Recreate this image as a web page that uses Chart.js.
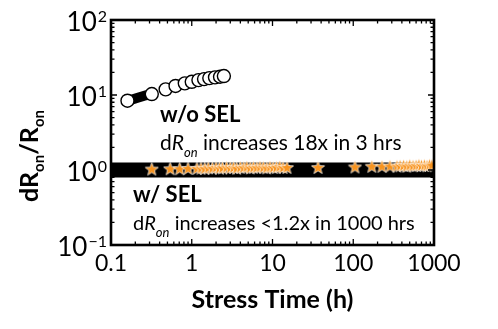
<!DOCTYPE html>
<html>
<head>
<meta charset="utf-8">
<script src="https://cdn.jsdelivr.net/npm/chart.js@4/dist/chart.umd.min.js"></script>
<style>
  html, body { margin: 0; padding: 0; background: #fff; }
</style>
</head>
<body>
<canvas id="ronChart" width="498" height="329"></canvas>
<script>
// w/o SEL: open circles, plus the dense early trace under them
const noSelTime = [0.16, 0.32, 0.475, 0.63, 0.82, 1.0, 1.21, 1.42, 1.65, 1.94, 2.24, 2.5];
const noSelRatio = [8.4, 10.3, 11.9, 13.2, 14.3, 15.0, 15.8, 16.3, 16.8, 17.2, 17.5, 17.9];
const noSelTraceTime = [0.17, 0.2, 0.23, 0.27, 0.31];
const noSelTraceRatio = [8.5, 9.0, 9.4, 9.9, 10.2];

// w/ SEL: black band and orange stars
const selBandTime = [0.1, 1, 10, 100, 1000];
const selBandRatio = [1.0, 1.0, 1.0, 1.0, 1.0];
const selStarTime = [0.32, 0.54, 0.71, 0.90, 1.16, 1.3, 1.45, 1.6, 1.8, 2.0, 2.2, 2.4, 2.7, 3.0, 3.3,
  3.6, 4.0, 4.4, 4.8, 5.3, 5.8, 6.4, 7.0, 7.7, 8.5, 9.3, 10.2, 11.2, 12.3, 13.5, 15.1, 36.6, 105,
  170, 227, 285, 348, 380, 420, 460, 500, 550, 600, 650, 700, 760, 820, 880, 940];
const selStarRatio = [1.03, 1.04, 1.04, 1.05, 1.05, 1.06, 1.05, 1.07, 1.06, 1.08, 1.06, 1.07, 1.09, 1.07, 1.08,
  1.06, 1.09, 1.08, 1.10, 1.07, 1.09, 1.08, 1.10, 1.09, 1.07, 1.10, 1.08, 1.09, 1.11, 1.08, 1.08, 1.08, 1.10,
  1.12, 1.12, 1.13, 1.13, 1.14, 1.15, 1.13, 1.16, 1.14, 1.15, 1.17, 1.15, 1.16, 1.14, 1.17, 1.16];

const xTickValues = [0.1, 1, 10, 100, 1000];
const xTickLabels = ['0.1', '1', '10', '100', '1000'];
const yTickExponents = [-1, 0, 1, 2];

const FONT = 'Lato, "Open Sans", sans-serif';

function points(xs, ys) {
  return xs.map((t, i) => ({ x: t, y: ys[i] }));
}

function makeStar(size, fill) {
  const c = document.createElement('canvas');
  c.width = c.height = size;
  const g = c.getContext('2d');
  const cx = size / 2, cy = size / 2 + 0.5, ro = size / 2 - 0.6, ri = ro * 0.42;
  g.beginPath();
  for (let k = 0; k < 10; k++) {
    const r = k % 2 ? ri : ro;
    const a = -Math.PI / 2 + k * Math.PI / 5;
    g.lineTo(cx + r * Math.cos(a), cy + r * Math.sin(a));
  }
  g.closePath();
  g.fillStyle = fill;
  g.fill();
  g.strokeStyle = '#fff';
  g.lineWidth = 0.7;
  g.stroke();
  return c;
}

// draws a run of text pieces with their own fonts / vertical shifts
function drawRich(ctx, parts, x, y, align) {
  let total = 0;
  parts.forEach(p => { ctx.font = p.font; total += ctx.measureText(p.text).width; });
  let cur = align === 'center' ? x - total / 2 : align === 'right' ? x - total : x;
  ctx.textAlign = 'left';
  ctx.textBaseline = 'alphabetic';
  parts.forEach(p => {
    ctx.font = p.font;
    ctx.fillText(p.text, cur, y + (p.dy || 0));
    cur += ctx.measureText(p.text).width;
  });
}

function ronLine(ctx, tail, x, y, size) {
  drawRich(ctx, [
    { text: 'd', font: size + 'px ' + FONT },
    { text: 'R', font: 'italic ' + size + 'px ' + FONT },
    { text: 'on', font: 'italic 13px ' + FONT, dy: 7 },
    { text: ' ' + tail, font: size + 'px ' + FONT }
  ], x, y, 'left');
}

const framePlugin = {
  id: 'frame',
  afterDatasetsDraw(chart) {
    const { ctx, chartArea: a, scales: { x, y } } = chart;
    ctx.save();
    ctx.strokeStyle = '#000';
    ctx.lineWidth = 1.3;
    ctx.beginPath();
    for (let e = -1; e <= 2; e++) {
      for (let m = 1; m <= 9; m++) {
        const v = m * Math.pow(10, e);
        const len = m === 1 ? 6 : 3.5;
        const px = x.getPixelForValue(v);
        ctx.moveTo(px, a.bottom); ctx.lineTo(px, a.bottom - len);
        ctx.moveTo(px, a.top); ctx.lineTo(px, a.top + len);
      }
    }
    for (let e = -1; e <= 1; e++) {
      for (let m = 1; m <= 9; m++) {
        const v = m * Math.pow(10, e);
        const len = m === 1 ? 6 : 3.5;
        const py = y.getPixelForValue(v);
        ctx.moveTo(a.left, py); ctx.lineTo(a.left + len, py);
        ctx.moveTo(a.right, py); ctx.lineTo(a.right - len, py);
      }
    }
    ctx.stroke();
    ctx.lineWidth = 2.6;
    ctx.strokeRect(a.left, a.top, a.width, a.height);
    ctx.restore();
  },
  afterDraw(chart) {
    const { ctx, chartArea: a, scales: { y } } = chart;
    ctx.save();
    ctx.fillStyle = '#000';

    // y tick labels as powers of ten
    yTickExponents.forEach(e => {
      const py = y.getPixelForValue(Math.pow(10, e));
      ctx.font = '16px ' + FONT;
      const expText = e < 0 ? '\u2212' + (-e) : String(e);
      const expW = ctx.measureText(expText).width;
      ctx.textAlign = 'left';
      ctx.textBaseline = 'alphabetic';
      ctx.fillText(expText, 107 - expW, py + 2);
      ctx.font = '26px ' + FONT;
      ctx.textAlign = 'right';
      ctx.fillText('10', 107 - expW - 1, py + 11);
    });

    // y axis title, rotated
    ctx.translate(38, 156);
    ctx.rotate(-Math.PI / 2);
    drawRich(ctx, [
      { text: 'dR', font: 'bold 25px ' + FONT },
      { text: 'on', font: 'bold 15px ' + FONT, dy: 6 },
      { text: '/R', font: 'bold 25px ' + FONT },
      { text: 'on', font: 'bold 15px ' + FONT, dy: 6 }
    ], 0, 0, 'center');
    ctx.setTransform(1, 0, 0, 1, 0, 0);

    // x axis title
    ctx.font = 'bold 25px ' + FONT;
    ctx.textAlign = 'center';
    ctx.textBaseline = 'alphabetic';
    ctx.fillText('Stress Time (h)', (a.left + a.right) / 2, 308);

    // annotations
    ctx.font = 'bold 22px ' + FONT;
    ctx.textAlign = 'left';
    ctx.fillText('w/o SEL', a.left + 49, 122);
    ronLine(ctx, 'increases 18x in 3 hrs', a.left + 49, 150, 21);
    ctx.font = 'bold 22px ' + FONT;
    ctx.fillText('w/ SEL', a.left + 22, 202);
    ronLine(ctx, 'increases <1.2x in 1000 hrs', a.left + 22, 230, 20);
    ctx.restore();
  }
};

const starImg = makeStar(15, '#F7931E');

new Chart(document.getElementById('ronChart'), {
  type: 'line',
  data: {
    datasets: [
      {
        label: 'w/o SEL',
        data: points(noSelTime, noSelRatio),
        showLine: false,
        pointRadius: 6.5,
        pointBorderWidth: 1.4,
        pointBackgroundColor: '#fff',
        pointBorderColor: '#000'
      },
      {
        label: 'w/o SEL trace',
        data: points(noSelTraceTime, noSelTraceRatio),
        borderColor: '#000',
        borderWidth: 10,
        pointRadius: 0
      },
      {
        label: 'w/ SEL stars',
        data: points(selStarTime, selStarRatio),
        showLine: false,
        pointStyle: starImg
      },
      {
        label: 'w/ SEL',
        data: points(selBandTime, selBandRatio),
        borderColor: '#000',
        borderWidth: 15,
        pointRadius: 0
      }
    ]
  },
  options: {
    responsive: false,
    animation: false,
    devicePixelRatio: 1,
    layout: { padding: { left: 0, top: 20, right: 64, bottom: 0 } },
    plugins: { legend: { display: false }, tooltip: { enabled: false } },
    scales: {
      x: {
        type: 'logarithmic',
        min: 0.1,
        max: 1000,
        afterFit(scale) { scale.height = 84; },
        afterBuildTicks(scale) { scale.ticks = xTickValues.map(v => ({ value: v })); },
        grid: { display: false, drawTicks: false },
        border: { display: false },
        ticks: {
          autoSkip: false,
          maxRotation: 0,
          padding: 5,
          color: '#000',
          font: { family: FONT, size: 23 },
          callback: function (value) { return xTickLabels[xTickValues.indexOf(value)]; }
        }
      },
      y: {
        type: 'logarithmic',
        min: 0.1,
        max: 100,
        afterFit(scale) { scale.width = 111; },
        grid: { display: false, drawTicks: false },
        border: { display: false },
        ticks: { display: false }
      }
    }
  },
  plugins: [framePlugin]
});
</script>
</body>
</html>
